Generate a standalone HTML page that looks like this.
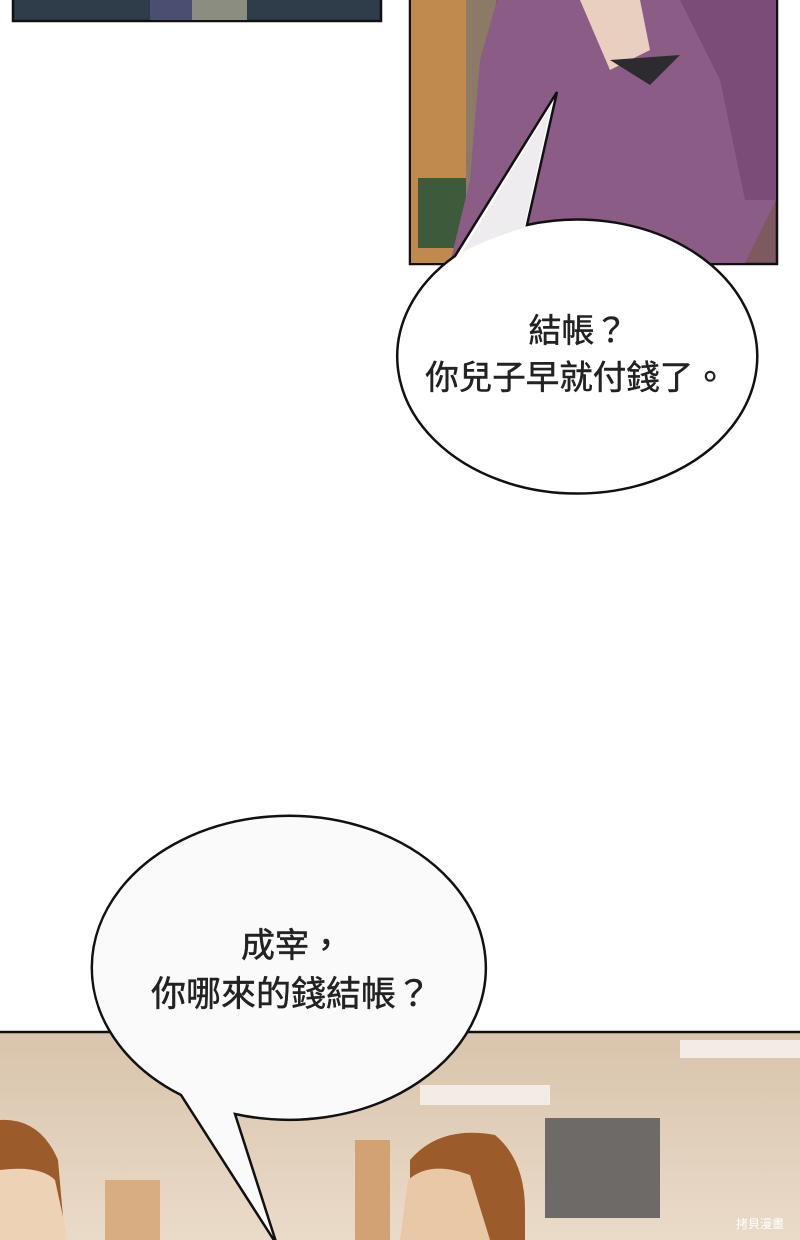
<!DOCTYPE html>
<html><head><meta charset="utf-8"><style>
html,body{margin:0;padding:0;background:#fff;width:800px;height:1240px;overflow:hidden}
svg{display:block}
text{font-family:"Liberation Sans","Noto Sans CJK TC",sans-serif;fill:#222;stroke:#222;stroke-width:0.5}
</style></head><body>
<svg width="800" height="1240" viewBox="0 0 800 1240" xmlns="http://www.w3.org/2000/svg">
<defs>
<linearGradient id="bg2" x1="0" y1="0" x2="0" y2="1"><stop offset="0" stop-color="#d9c4ac"/><stop offset="1" stop-color="#eadbc9"/></linearGradient>
</defs>
<rect x="13" y="-2" width="368" height="23" fill="#2f3d4b" stroke="#111" stroke-width="2.5"/>
<rect x="150" y="0" width="42" height="20" fill="#4a4f72"/>
<rect x="192" y="0" width="55" height="20" fill="#8a8d7f"/>
<rect x="410" y="-2" width="367" height="266" fill="#7c5a5f" stroke="#111" stroke-width="2.5"/>
<rect x="411" y="0" width="55" height="263" fill="#c08a4f"/>
<rect x="466" y="0" width="30" height="263" fill="#8c7a66"/>
<rect x="418" y="178" width="48" height="70" fill="#3d5a3a"/>
<path d="M497 0 L760 0 L776 30 L776 200 L745 263 L450 263 L470 180 L480 60 Z" fill="#8b5c86"/>
<path d="M580 0 L640 0 L650 50 L610 70 Z" fill="#e8cfc0"/>
<path d="M610 60 L680 55 L650 85 Z" fill="#2d2a30"/>
<path d="M680 0 L776 0 L776 200 L745 200 L720 80 Z" fill="#7a4c77"/>
<path d="M527 225 A180 137 0 1 1 455 256 L557 92 Z" fill="#fff" stroke="#111" stroke-width="2.5" stroke-linejoin="miter"/>
<path d="M462 252 L551 106 L524 228 Q495 236 462 252 Z" fill="#efecef"/>
<text x="578" y="342" font-size="33" text-anchor="middle">結帳？</text>
<text x="576" y="389" font-size="33.5" text-anchor="middle">你兒子早就付錢了。</text>
<rect x="0" y="1032" width="800" height="210" fill="url(#bg2)"/>
<line x1="0" y1="1032" x2="800" y2="1032" stroke="#111" stroke-width="2.5"/>
<rect x="545" y="1118" width="115" height="100" fill="#6d6a68"/>
<rect x="355" y="1140" width="35" height="100" fill="#d2a273"/>
<rect x="105" y="1180" width="55" height="60" fill="#d8ad82"/>
<rect x="680" y="1040" width="120" height="18" fill="#f3ece4"/>
<rect x="420" y="1085" width="130" height="20" fill="#f3ece4"/>
<path d="M410 1160 Q440 1125 495 1135 Q525 1160 525 1210 L525 1240 L410 1240 Z" fill="#9c5b2b"/>
<path d="M408 1180 Q430 1160 470 1175 L490 1240 L400 1240 Z" fill="#e9c8a8"/>
<path d="M0 1120 Q40 1118 58 1160 L65 1240 L0 1240 Z" fill="#9c5b2b"/>
<path d="M0 1170 Q40 1165 55 1180 L68 1240 L0 1240 Z" fill="#eed2b6"/>
<path d="M181 1095 A197 152 0 1 1 235 1114 L277 1245 Z" fill="#fafafa" stroke="#111" stroke-width="2.5" stroke-linejoin="miter"/>
<text x="292" y="957" font-size="34" text-anchor="middle">成宰，</text>
<text x="291" y="1006" font-size="35" text-anchor="middle">你哪來的錢結帳？</text>
<text x="760" y="1228" font-size="12" text-anchor="middle" style="fill:#fff;stroke:none">拷貝漫畫</text>
</svg>
</body></html>
